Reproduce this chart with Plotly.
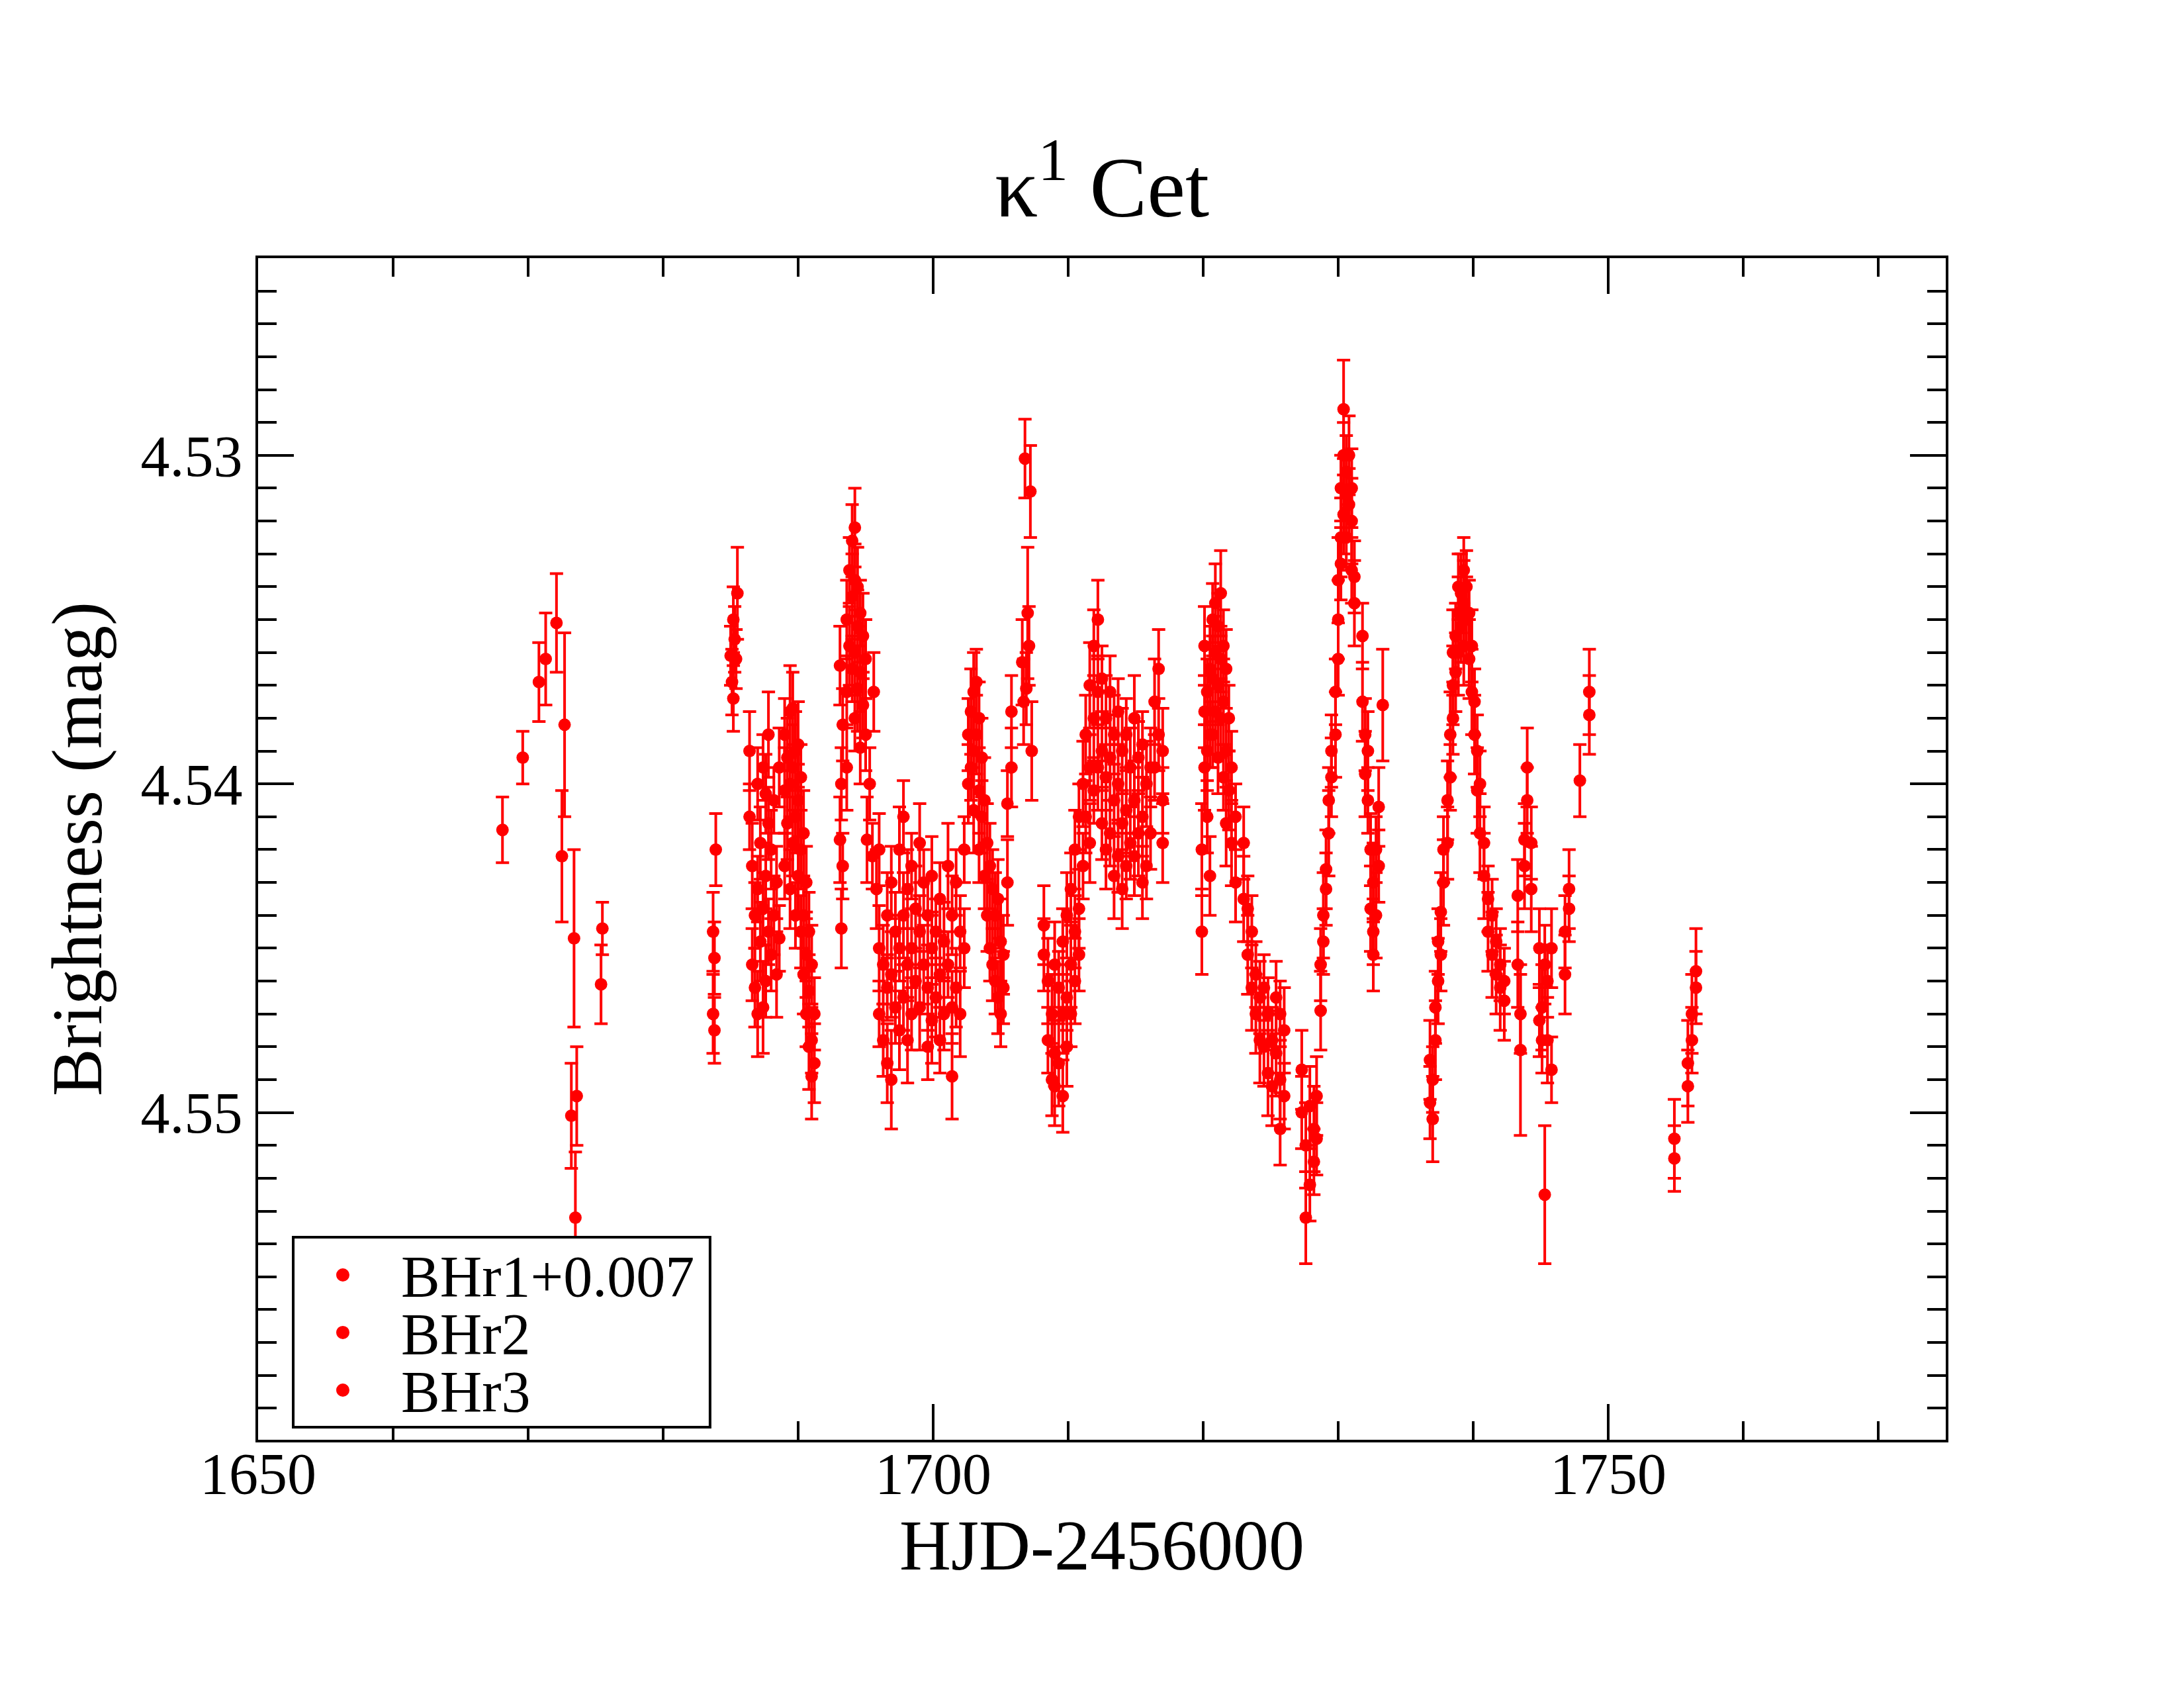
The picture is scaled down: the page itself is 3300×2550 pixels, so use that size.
import plotly.graph_objects as go

# light curve of kappa1 Cet
# BHr1 (shifted by +0.007)
bhr1_hjd = [
    1668.1, 1669.6, 1670.8, 1671.3, 1672.1, 1672.7, 1672.5, 1673.4, 1673.2, 1673.6, 1673.5, 1675.4, 1675.5,
    1683.7, 1683.8, 1683.7, 1683.8, 1683.9,
    1685.5, 1685.2, 1685.0, 1685.3, 1685.1, 1685.4, 1685.2,
    1686.4, 1686.4, 1686.6, 1686.6, 1686.8, 1686.8, 1687.0, 1687.0, 1687.0, 1687.2, 1687.2,
    1687.4, 1687.4, 1687.4, 1687.6, 1687.6, 1687.6, 1687.8, 1687.8, 1687.8, 1688.0, 1688.0,
    1688.2, 1688.2, 1688.4, 1688.4, 1688.6, 1688.6,
    1689.0, 1689.0, 1689.0, 1689.2, 1689.2, 1689.4, 1689.4, 1689.4, 1689.6, 1689.6, 1689.6,
    1689.8, 1689.8, 1689.8, 1690.0, 1690.0, 1690.0, 1690.2, 1690.2, 1690.2, 1690.4, 1690.4, 1690.4,
    1690.6, 1690.6, 1690.6, 1690.8, 1690.8, 1690.8, 1691.0, 1691.0, 1691.0, 1691.2, 1691.2,
    1693.1, 1693.2, 1693.1, 1693.3, 1693.2, 1693.3,
    1693.6, 1693.6, 1693.6, 1693.8, 1693.8, 1694.0, 1694.0, 1694.0, 1694.2, 1694.2, 1694.2, 1694.2,
    1694.4, 1694.4, 1694.4, 1694.6, 1694.6, 1694.6, 1694.8, 1694.8, 1695.0, 1695.0,
    1695.6, 1695.3, 1695.1, 1695.5, 1695.8,
]
bhr1_mag = [
    4.5414, 4.5392, 4.5369, 4.5362, 4.5351, 4.5382, 4.5422, 4.5447, 4.5501, 4.5495, 4.5532, 4.5461, 4.5444,
    4.5445, 4.5453, 4.5470, 4.5475, 4.5420,
    4.5342, 4.5350, 4.5361, 4.5356, 4.5369, 4.5362, 4.5374,
    4.5390, 4.5410, 4.5425, 4.5455, 4.5440, 4.5462, 4.5400, 4.5432, 4.5470, 4.5418, 4.5448,
    4.5395, 4.5438, 4.5468, 4.5403, 4.5428, 4.5460, 4.5385, 4.5412, 4.5445, 4.5420, 4.5452,
    4.5405, 4.5440, 4.5430, 4.5458, 4.5395, 4.5447,
    4.5385, 4.5402, 4.5425, 4.5392, 4.5412, 4.5378, 4.5400, 4.5432, 4.5377, 4.5395, 4.5418,
    4.5390, 4.5410, 4.5440, 4.5388, 4.5405, 4.5428, 4.5398, 4.5420, 4.5445, 4.5415, 4.5440, 4.5458,
    4.5430, 4.5452, 4.5470, 4.5445, 4.5463, 4.5480, 4.5455, 4.5478, 4.5489, 4.5470, 4.5485,
    4.5364, 4.5400, 4.5417, 4.5425, 4.5444, 4.5382,
    4.5350, 4.5372, 4.5395, 4.5335, 4.5358, 4.5326, 4.5343, 4.5365, 4.5322, 4.5338, 4.5360, 4.5380,
    4.5340, 4.5352, 4.5371, 4.5348, 4.5366, 4.5389, 4.5355, 4.5376, 4.5362, 4.5385,
    4.5372, 4.5400, 4.5417, 4.5422, 4.5432,
]
bhr1_err = [
    0.0010, 0.0008, 0.0012, 0.0014, 0.0015, 0.0028, 0.0020, 0.0027, 0.0016, 0.0015, 0.0020, 0.0012, 0.0008,
    0.0012, 0.0011, 0.0012, 0.0010, 0.0011,
    0.0014, 0.0010, 0.0009, 0.0010, 0.0010, 0.0009, 0.0010,
    0.0012, 0.0010, 0.0013, 0.0011, 0.0010, 0.0012, 0.0011, 0.0010, 0.0013, 0.0011, 0.0012,
    0.0010, 0.0011, 0.0014, 0.0012, 0.0010, 0.0011, 0.0013, 0.0011, 0.0010, 0.0012, 0.0011,
    0.0010, 0.0012, 0.0011, 0.0013, 0.0012, 0.0010,
    0.0011, 0.0013, 0.0010, 0.0012, 0.0011, 0.0014, 0.0010, 0.0012, 0.0011, 0.0013, 0.0010,
    0.0012, 0.0011, 0.0010, 0.0013, 0.0011, 0.0012, 0.0010, 0.0012, 0.0011, 0.0013, 0.0010, 0.0012,
    0.0011, 0.0013, 0.0010, 0.0012, 0.0011, 0.0013, 0.0012, 0.0010, 0.0013, 0.0011, 0.0012,
    0.0012, 0.0011, 0.0013, 0.0010, 0.0012, 0.0011,
    0.0012, 0.0011, 0.0013, 0.0010, 0.0012, 0.0011, 0.0013, 0.0010, 0.0012, 0.0011, 0.0013, 0.0010,
    0.0012, 0.0011, 0.0013, 0.0010, 0.0012, 0.0011, 0.0013, 0.0010, 0.0012, 0.0011,
    0.0012, 0.0011, 0.0013, 0.0010, 0.0012,
]

# BHr2
bhr2_hjd = [
    1696.0, 1696.0, 1696.0, 1696.3, 1696.3, 1696.6, 1696.6, 1696.6, 1696.9, 1696.9, 1696.9,
    1697.2, 1697.2, 1697.5, 1697.5, 1697.5, 1697.8, 1697.8, 1697.8, 1698.1, 1698.1, 1698.1,
    1698.4, 1698.4, 1698.4, 1698.7, 1698.7, 1699.0, 1699.0, 1699.0, 1699.3, 1699.3,
    1699.6, 1699.6, 1699.6, 1699.9, 1699.9, 1699.9, 1700.2, 1700.2, 1700.5, 1700.5, 1700.5,
    1700.8, 1700.8, 1701.1, 1701.1, 1701.4, 1701.4, 1701.4, 1701.7, 1701.7, 1702.0, 1702.0, 1702.3, 1702.3,
    1702.6, 1702.6, 1702.8, 1702.8, 1703.0, 1703.0, 1703.0, 1703.2, 1703.2, 1703.4, 1703.4, 1703.4,
    1703.6, 1703.6, 1703.8, 1703.8, 1704.0, 1704.0, 1704.2, 1704.2, 1704.4, 1704.4, 1704.6, 1704.6,
    1704.8, 1704.8, 1705.0, 1705.0, 1705.2, 1705.2, 1705.5, 1705.5, 1705.8, 1705.8,
    1706.6, 1706.8, 1707.0, 1707.2, 1706.9, 1707.3, 1707.1, 1706.7,
    1708.2, 1708.2, 1708.5, 1708.5, 1708.8, 1708.8, 1709.0, 1709.0, 1709.0, 1709.3, 1709.3,
    1709.6, 1709.6, 1709.6, 1709.9, 1709.9, 1709.9, 1710.2, 1710.2, 1710.2, 1710.5, 1710.5, 1710.5,
    1710.8, 1710.8, 1710.8, 1711.1, 1711.1,
    1711.3, 1711.3, 1711.6, 1711.6, 1711.6, 1711.9, 1711.9, 1711.9, 1712.2, 1712.2, 1712.2,
    1712.5, 1712.5, 1712.5, 1712.8, 1712.8, 1712.8, 1713.1, 1713.1, 1713.1, 1713.4, 1713.4, 1713.4,
    1713.7, 1713.7, 1713.7, 1714.0, 1714.0, 1714.0, 1714.3, 1714.3, 1714.3, 1714.6, 1714.6,
    1714.9, 1714.9, 1714.9, 1715.2, 1715.2, 1715.5, 1715.5, 1715.5, 1715.8, 1715.8, 1716.1, 1716.1,
    1716.4, 1716.4, 1716.7, 1716.7, 1717.0, 1717.0, 1717.0,
    1719.9, 1719.9, 1720.1, 1720.1, 1720.1, 1720.3, 1720.3, 1720.3, 1720.5, 1720.5, 1720.5,
    1720.7, 1720.7, 1720.7, 1720.9, 1720.9, 1720.9, 1721.1, 1721.1, 1721.1, 1721.3, 1721.3, 1721.3,
    1721.5, 1721.5, 1721.5, 1721.7, 1721.7, 1721.7, 1721.9, 1721.9, 1722.1, 1722.1, 1722.4, 1722.4,
    1723.0, 1723.0, 1723.3, 1723.3, 1723.6, 1723.6, 1723.9, 1723.9, 1724.2, 1724.2, 1724.5, 1724.5,
    1724.8, 1724.8, 1725.1, 1725.1, 1725.4, 1725.4, 1725.7, 1725.7, 1725.7, 1726.0, 1726.0,
    1727.3, 1727.3, 1727.6, 1727.6, 1727.9, 1727.9, 1728.2, 1728.2, 1728.4, 1728.4,
]
bhr2_mag = [
    4.5420, 4.5450, 4.5470, 4.5455, 4.5478, 4.5440, 4.5462, 4.5485, 4.5430, 4.5458, 4.5490,
    4.5445, 4.5468, 4.5420, 4.5450, 4.5475, 4.5410, 4.5440, 4.5465, 4.5432, 4.5455, 4.5478,
    4.5425, 4.5450, 4.5470, 4.5438, 4.5460, 4.5418, 4.5445, 4.5468, 4.5430, 4.5455,
    4.5440, 4.5462, 4.5480, 4.5428, 4.5450, 4.5472, 4.5445, 4.5465, 4.5435, 4.5458, 4.5478,
    4.5448, 4.5470, 4.5425, 4.5455, 4.5440, 4.5468, 4.5489, 4.5430, 4.5462, 4.5445, 4.5470, 4.5420, 4.5450,
    4.5400, 4.5385, 4.5378, 4.5395, 4.5372, 4.5390, 4.5408, 4.5369, 4.5385, 4.5380, 4.5402, 4.5420,
    4.5392, 4.5410, 4.5405, 4.5428, 4.5418, 4.5440, 4.5425, 4.5450, 4.5432, 4.5455, 4.5440, 4.5460,
    4.5435, 4.5465, 4.5448, 4.5470, 4.5452, 4.5462, 4.5430, 4.5406, 4.5395, 4.5378,
    4.5363, 4.5301, 4.5348, 4.5311, 4.5371, 4.5390, 4.5358, 4.5375,
    4.5443, 4.5452, 4.5460, 4.5478, 4.5470, 4.5490, 4.5455, 4.5482, 4.5492, 4.5462, 4.5485,
    4.5448, 4.5470, 4.5495, 4.5440, 4.5465, 4.5480, 4.5432, 4.5455, 4.5470, 4.5420, 4.5445, 4.5460,
    4.5410, 4.5438, 4.5452, 4.5400, 4.5425,
    4.5385, 4.5410, 4.5370, 4.5395, 4.5418, 4.5358, 4.5380, 4.5402, 4.5350, 4.5372, 4.5395,
    4.5368, 4.5390, 4.5412, 4.5380, 4.5398, 4.5420, 4.5372, 4.5392, 4.5415, 4.5385, 4.5405, 4.5428,
    4.5378, 4.5400, 4.5422, 4.5390, 4.5412, 4.5432, 4.5385, 4.5408, 4.5425, 4.5395, 4.5418,
    4.5380, 4.5405, 4.5422, 4.5392, 4.5415, 4.5388, 4.5410, 4.5430, 4.5400, 4.5425, 4.5395, 4.5415,
    4.5375, 4.5395, 4.5365, 4.5385, 4.5390, 4.5405, 4.5418,
    4.5445, 4.5420, 4.5358, 4.5378, 4.5395, 4.5372, 4.5390, 4.5410, 4.5365, 4.5385, 4.5428,
    4.5350, 4.5368, 4.5385, 4.5345, 4.5360, 4.5378, 4.5352, 4.5370, 4.5392, 4.5342, 4.5362, 4.5380,
    4.5358, 4.5375, 4.5398, 4.5365, 4.5390, 4.5412, 4.5380, 4.5402, 4.5395, 4.5418, 4.5410, 4.5430,
    4.5418, 4.5435, 4.5438, 4.5452, 4.5445, 4.5462, 4.5458, 4.5470, 4.5465, 4.5478, 4.5462, 4.5480,
    4.5470, 4.5488, 4.5478, 4.5492, 4.5465, 4.5482, 4.5470, 4.5490, 4.5505, 4.5475, 4.5495,
    4.5487, 4.5500, 4.5510, 4.5532, 4.5498, 4.5522, 4.5505, 4.5515, 4.5495, 4.5508,
]
bhr2_err = [
    0.0011, 0.0013, 0.0010, 0.0012, 0.0011, 0.0013, 0.0010, 0.0012, 0.0011, 0.0013, 0.0015,
    0.0012, 0.0011, 0.0013, 0.0010, 0.0012, 0.0011, 0.0013, 0.0010, 0.0012, 0.0011, 0.0013,
    0.0010, 0.0012, 0.0011, 0.0013, 0.0010, 0.0012, 0.0011, 0.0013, 0.0010, 0.0012,
    0.0011, 0.0013, 0.0010, 0.0012, 0.0011, 0.0013, 0.0010, 0.0012, 0.0011, 0.0013, 0.0010,
    0.0012, 0.0011, 0.0013, 0.0010, 0.0012, 0.0011, 0.0013, 0.0010, 0.0012, 0.0011, 0.0013, 0.0010, 0.0012,
    0.0012, 0.0011, 0.0013, 0.0010, 0.0012, 0.0011, 0.0013, 0.0010, 0.0012, 0.0011, 0.0013, 0.0010,
    0.0012, 0.0011, 0.0013, 0.0010, 0.0012, 0.0011, 0.0013, 0.0010, 0.0012, 0.0011, 0.0013, 0.0010,
    0.0012, 0.0011, 0.0013, 0.0010, 0.0012, 0.0011, 0.0013, 0.0010, 0.0012, 0.0011,
    0.0013, 0.0012, 0.0020, 0.0014, 0.0011, 0.0015, 0.0012, 0.0013,
    0.0012, 0.0011, 0.0013, 0.0010, 0.0012, 0.0011, 0.0013, 0.0010, 0.0012, 0.0011, 0.0013,
    0.0010, 0.0012, 0.0011, 0.0013, 0.0010, 0.0012, 0.0011, 0.0013, 0.0010, 0.0012, 0.0011, 0.0013,
    0.0010, 0.0012, 0.0011, 0.0013, 0.0010,
    0.0012, 0.0011, 0.0013, 0.0010, 0.0012, 0.0011, 0.0013, 0.0010, 0.0012, 0.0011, 0.0013,
    0.0010, 0.0012, 0.0011, 0.0013, 0.0010, 0.0012, 0.0011, 0.0013, 0.0010, 0.0012, 0.0011, 0.0013,
    0.0010, 0.0012, 0.0011, 0.0013, 0.0010, 0.0012, 0.0011, 0.0013, 0.0010, 0.0012, 0.0011,
    0.0013, 0.0010, 0.0012, 0.0011, 0.0013, 0.0010, 0.0012, 0.0011, 0.0013, 0.0010, 0.0012, 0.0011,
    0.0013, 0.0010, 0.0012, 0.0011, 0.0013, 0.0010, 0.0012,
    0.0013, 0.0014, 0.0012, 0.0011, 0.0013, 0.0010, 0.0012, 0.0011, 0.0013, 0.0010, 0.0012,
    0.0011, 0.0013, 0.0010, 0.0012, 0.0011, 0.0013, 0.0010, 0.0012, 0.0011, 0.0013, 0.0010, 0.0012,
    0.0011, 0.0013, 0.0010, 0.0012, 0.0011, 0.0013, 0.0010, 0.0012, 0.0011, 0.0013, 0.0010, 0.0012,
    0.0011, 0.0013, 0.0010, 0.0012, 0.0011, 0.0013, 0.0010, 0.0012, 0.0011, 0.0013, 0.0010, 0.0012,
    0.0011, 0.0013, 0.0010, 0.0012, 0.0011, 0.0013, 0.0010, 0.0012, 0.0011, 0.0013, 0.0010,
    0.0012, 0.0011, 0.0013, 0.0014, 0.0012, 0.0011, 0.0013, 0.0010, 0.0012, 0.0011,
]

# BHr3
bhr3_hjd = [
    1728.7, 1728.7, 1728.9, 1728.9, 1729.1, 1729.1, 1729.3, 1729.3, 1729.5, 1729.5,
    1729.8, 1729.8, 1730.0, 1730.0, 1730.0, 1730.2, 1730.2, 1730.2, 1730.4, 1730.4, 1730.4,
    1730.6, 1730.6, 1730.6, 1730.8, 1730.8, 1731.0, 1731.0, 1731.0, 1731.2, 1731.2,
    1731.8, 1731.8, 1732.0, 1732.0, 1732.2, 1732.2, 1732.4, 1732.4, 1732.6, 1732.6, 1732.6,
    1732.8, 1732.8, 1733.0, 1733.0, 1733.3,
    1736.8, 1736.8, 1737.0, 1737.0, 1737.2, 1737.2, 1737.4, 1737.4, 1737.6, 1737.6, 1737.8, 1737.8,
    1738.1, 1738.1, 1738.3, 1738.3, 1738.5, 1738.5, 1738.5, 1738.7, 1738.7, 1738.9, 1738.9, 1738.9,
    1739.1, 1739.1, 1739.3, 1739.3, 1739.3, 1739.5, 1739.5, 1739.7, 1739.7, 1739.9, 1739.9,
    1740.1, 1740.1, 1740.3, 1740.3, 1740.5, 1740.5,
    1740.8, 1740.8, 1741.1, 1741.1, 1741.4, 1741.4, 1741.7, 1741.7, 1742.0, 1742.0, 1742.3, 1742.3,
    1743.3, 1743.3, 1743.5, 1743.5, 1743.8, 1743.8, 1744.0, 1744.0, 1744.3, 1744.3,
    1744.9, 1744.9, 1745.1, 1745.1, 1745.3, 1745.3, 1745.5, 1745.5, 1745.8, 1745.8,
    1746.8, 1746.8, 1747.1, 1747.1, 1747.9, 1748.6, 1748.6,
    1754.9, 1754.9, 1755.9, 1755.9, 1756.2, 1756.2, 1756.5, 1756.5,
]
bhr3_mag = [
    4.5469, 4.5455, 4.5440, 4.5448, 4.5426, 4.5432, 4.5415, 4.5405, 4.5398, 4.5390,
    4.5385, 4.5372, 4.5350, 4.5362, 4.5338, 4.5310, 4.5325, 4.5333, 4.5286, 4.5300, 4.5318,
    4.5305, 4.5312, 4.5325, 4.5300, 4.5315, 4.5320, 4.5335, 4.5310, 4.5337, 4.5345,
    4.5355, 4.5375, 4.5385, 4.5397, 4.5405, 4.5390, 4.5420, 4.5438, 4.5445, 4.5430, 4.5452,
    4.5440, 4.5420, 4.5407, 4.5425, 4.5376,
    4.5484, 4.5497, 4.5502, 4.5490, 4.5478, 4.5468, 4.5460, 4.5448, 4.5439, 4.5452, 4.5430, 4.5420,
    4.5405, 4.5418, 4.5385, 4.5398, 4.5370, 4.5380, 4.5360, 4.5355, 4.5366, 4.5348, 4.5360, 4.5340,
    4.5342, 4.5352, 4.5345, 4.5335, 4.5358, 4.5340, 4.5350, 4.5348, 4.5362, 4.5358, 4.5372,
    4.5375, 4.5385, 4.5390, 4.5402, 4.5400, 4.5415,
    4.5418, 4.5428, 4.5435, 4.5445, 4.5440, 4.5452, 4.5448, 4.5458, 4.5455, 4.5462, 4.5460, 4.5466,
    4.5434, 4.5455, 4.5481, 4.5470, 4.5417, 4.5425, 4.5405, 4.5395, 4.5418, 4.5432,
    4.5450, 4.5472, 4.5468, 4.5478, 4.5455, 4.5525, 4.5460, 4.5478, 4.5487, 4.5450,
    4.5458, 4.5445, 4.5438, 4.5432, 4.5399, 4.5379, 4.5372,
    4.5514, 4.5508, 4.5492, 4.5485, 4.5478, 4.5470, 4.5462, 4.5457,
]
bhr3_err = [
    0.0012, 0.0011, 0.0013, 0.0010, 0.0012, 0.0011, 0.0013, 0.0010, 0.0012, 0.0011,
    0.0013, 0.0010, 0.0012, 0.0011, 0.0013, 0.0010, 0.0012, 0.0011, 0.0015, 0.0010, 0.0012,
    0.0011, 0.0013, 0.0010, 0.0012, 0.0011, 0.0013, 0.0010, 0.0012, 0.0011, 0.0013,
    0.0010, 0.0012, 0.0011, 0.0013, 0.0010, 0.0012, 0.0011, 0.0013, 0.0010, 0.0012, 0.0011,
    0.0013, 0.0010, 0.0012, 0.0011, 0.0017,
    0.0012, 0.0011, 0.0013, 0.0010, 0.0012, 0.0011, 0.0013, 0.0010, 0.0012, 0.0011, 0.0013, 0.0010,
    0.0012, 0.0011, 0.0013, 0.0010, 0.0012, 0.0011, 0.0013, 0.0010, 0.0012, 0.0011, 0.0013, 0.0010,
    0.0012, 0.0011, 0.0013, 0.0010, 0.0012, 0.0011, 0.0013, 0.0010, 0.0012, 0.0011, 0.0013,
    0.0010, 0.0012, 0.0011, 0.0013, 0.0010, 0.0012,
    0.0011, 0.0013, 0.0010, 0.0012, 0.0011, 0.0013, 0.0010, 0.0012, 0.0011, 0.0013, 0.0010, 0.0012,
    0.0011, 0.0013, 0.0026, 0.0012, 0.0011, 0.0013, 0.0010, 0.0012, 0.0011, 0.0013,
    0.0012, 0.0011, 0.0013, 0.0010, 0.0012, 0.0021, 0.0011, 0.0013, 0.0010, 0.0012,
    0.0012, 0.0011, 0.0010, 0.0012, 0.0011, 0.0012, 0.0013,
    0.0010, 0.0012, 0.0011, 0.0013, 0.0010, 0.0012, 0.0011, 0.0013,
]

series = [
    ("BHr1+0.007", bhr1_hjd, bhr1_mag, bhr1_err),
    ("BHr2", bhr2_hjd, bhr2_mag, bhr2_err),
    ("BHr3", bhr3_hjd, bhr3_mag, bhr3_err),
]

RED = "#ff0000"
FONT = "Liberation Serif"

fig = go.Figure()
for name, t, m, e in series:
    fig.add_trace(go.Scatter(
        x=t, y=m, mode="markers", name=name, showlegend=False,
        marker=dict(color=RED, size=19, symbol="circle"),
        error_y=dict(type="data", array=e, visible=True, color=RED, thickness=4, width=10),
    ))

axis_common = dict(
    showline=True, linecolor="black", linewidth=4, mirror="allticks",
    ticks="inside", ticklen=54, tickwidth=4, tickcolor="black",
    showgrid=False, zeroline=False,
    tickfont=dict(family=FONT, size=88, color="black"),
)

fig.update_xaxes(
    range=[1650, 1775], tickvals=[1650, 1700, 1750],
    minor=dict(ticks="inside", ticklen=28, tickwidth=4, tickcolor="black", dtick=10, tick0=1650, showgrid=False),
    ticklabelstandoff=-29,
    title=dict(text="HJD-2456000", font=dict(family=FONT, size=108, color="black"), standoff=0),
    **axis_common,
)
fig.update_yaxes(
    range=[4.55996, 4.524], tickvals=[4.53, 4.54, 4.55], ticktext=["4.53", "4.54", "4.55"],
    minor=dict(ticks="inside", ticklen=28, tickwidth=4, tickcolor="black", dtick=0.001, tick0=4.53, showgrid=False),
    ticklabelstandoff=2,
    title=dict(text="Brightness (mag)", font=dict(family=FONT, size=108, color="black"), standoff=24),
    **axis_common,
)

# hand-made legend box (xmgrace style: tight rows, dots left of the names)
leg_x0, leg_x1, leg_y0, leg_y1 = 0.0208, 0.2678, 0.0106, 0.1714
dot_x, text_x = 0.0502, 0.0839
row_y = [0.1395, 0.0908, 0.0420]

shapes = [dict(type="rect", xref="paper", yref="paper", x0=leg_x0, x1=leg_x1, y0=leg_y0, y1=leg_y1,
               fillcolor="white", line=dict(color="black", width=4), layer="above")]
annotations = []
for (name, *_), ry in zip(series, row_y):
    shapes.append(dict(type="circle", xref="paper", yref="paper", xsizemode="pixel", ysizemode="pixel",
                       xanchor=dot_x, yanchor=ry, x0=-10, x1=10, y0=-10, y1=10,
                       fillcolor=RED, line=dict(width=0), layer="above"))
    annotations.append(dict(text=name, xref="paper", yref="paper", x=text_x, y=ry,
                            xanchor="left", yanchor="middle", showarrow=False, yshift=-2,
                            height=84, valign="middle",
                            font=dict(family=FONT, size=88, color="black")))

fig.update_layout(
    width=3300, height=2550,
    margin=dict(l=382, r=368, t=382, b=383),
    paper_bgcolor="white", plot_bgcolor="white",
    title=dict(text="κ<sup>1</sup> Cet", xref="paper", x=0.5, xanchor="center", y=0.875, yanchor="bottom",
               font=dict(family=FONT, size=130, color="black")),
    shapes=shapes, annotations=annotations,
    showlegend=False,
)

fig.write_html("out.html")
